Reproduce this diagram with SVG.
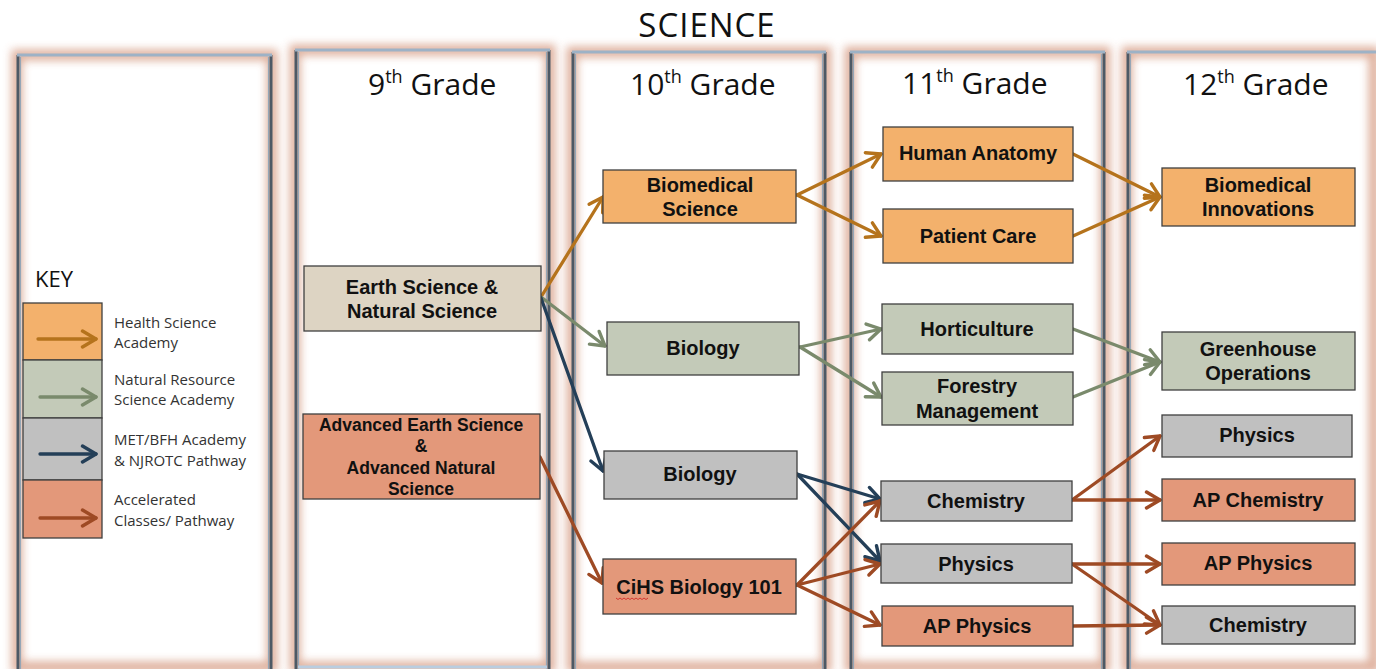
<svg xmlns="http://www.w3.org/2000/svg" width="1376" height="669" viewBox="0 0 1376 669">
<defs>
<filter id="glow" x="-20%" y="-20%" width="140%" height="140%"><feGaussianBlur stdDeviation="4"/></filter>
<marker id="ah-or" viewBox="0 0 20 20" refX="17" refY="10" markerWidth="20" markerHeight="20" markerUnits="userSpaceOnUse" orient="auto"><path d="M3.5,2 L17,10 L3.5,18" fill="none" stroke="#b5731c" stroke-width="3.4" stroke-linecap="round" stroke-linejoin="round"/></marker>
<marker id="ah-gr" viewBox="0 0 20 20" refX="17" refY="10" markerWidth="20" markerHeight="20" markerUnits="userSpaceOnUse" orient="auto"><path d="M3.5,2 L17,10 L3.5,18" fill="none" stroke="#7a8a6c" stroke-width="3.4" stroke-linecap="round" stroke-linejoin="round"/></marker>
<marker id="ah-nv" viewBox="0 0 20 20" refX="17" refY="10" markerWidth="20" markerHeight="20" markerUnits="userSpaceOnUse" orient="auto"><path d="M3.5,2 L17,10 L3.5,18" fill="none" stroke="#243f58" stroke-width="3.4" stroke-linecap="round" stroke-linejoin="round"/></marker>
<marker id="ah-br" viewBox="0 0 20 20" refX="17" refY="10" markerWidth="20" markerHeight="20" markerUnits="userSpaceOnUse" orient="auto"><path d="M3.5,2 L17,10 L3.5,18" fill="none" stroke="#9e4a24" stroke-width="3.4" stroke-linecap="round" stroke-linejoin="round"/></marker>
</defs>
<style>
.bg{fill:#fff}
.pfill{fill:#fff}
.pglow{fill:none;stroke:#dba893;stroke-width:11;filter:url(#glow);opacity:0.9}
.pside{stroke:#4d5965;stroke-width:3}
.pin{stroke:#95a6b6;stroke-width:1.2}
.ptop{stroke:#9db2c6;stroke-width:3}
.pbot{stroke:#b9cde0;stroke-width:3}
.title{font-family:"Open Sans","Noto Sans",sans-serif;font-size:33px;fill:#111}
.grade{font-family:"Open Sans","Noto Sans",sans-serif;font-size:30px;fill:#111}
.node rect{stroke:#3f3f3f;stroke-width:1.3}
.node text{font-family:"Liberation Sans",Arial,sans-serif;font-weight:bold;font-size:20px;fill:#111;text-anchor:middle}
.node text.sm{font-size:17.5px}
.or{fill:#f3b16c}
.gr{fill:#c3cab8}
.gy{fill:#c0c0c0}
.sa{fill:#e3987a}
.be{fill:#ddd4c3}
.key{font-family:"Open Sans","Noto Sans",sans-serif;font-size:15px;fill:#333}
.keyt{font-family:"Open Sans","Noto Sans",sans-serif;font-size:22px;fill:#111}
.c{fill:none;stroke-width:3.3;stroke-linecap:round}
.c-or{stroke:#b5731c;marker-end:url(#ah-or)}
.c-gr{stroke:#7a8a6c;marker-end:url(#ah-gr)}
.c-nv{stroke:#243f58;marker-end:url(#ah-nv)}
.c-br{stroke:#9e4a24;marker-end:url(#ah-br)}
</style>
<rect class="bg" x="0" y="0" width="1376" height="669"/>

<text class="title" x="707" y="37" text-anchor="middle" letter-spacing="1">SCIENCE</text>

<g id="panel-key">
<rect class="pfill" x="17" y="55" width="255" height="612"/>
<rect class="pglow" x="17" y="55" width="255" height="612"/>
<line class="pside" x1="18" y1="55" x2="18" y2="669"/><line class="pin" x1="20.5" y1="57" x2="20.5" y2="669"/>
<line class="pside" x1="271" y1="55" x2="271" y2="669"/><line class="pin" x1="268.5" y1="57" x2="268.5" y2="669"/>
<line class="ptop" x1="17" y1="55" x2="272" y2="55"/>
</g>
<g id="panel-9">
<rect class="pfill" x="295" y="50" width="255" height="617"/>
<rect class="pglow" x="295" y="50" width="255" height="617"/>
<line class="pside" x1="296" y1="50" x2="296" y2="669"/><line class="pin" x1="298.5" y1="52" x2="298.5" y2="669"/>
<line class="pside" x1="549" y1="50" x2="549" y2="669"/><line class="pin" x1="546.5" y1="52" x2="546.5" y2="669"/>
<line class="ptop" x1="295" y1="50" x2="550" y2="50"/>
<line class="pbot" x1="298" y1="667" x2="547" y2="667"/>
</g>
<g id="panel-10">
<rect class="pfill" x="572" y="52" width="254" height="615"/>
<rect class="pglow" x="572" y="52" width="254" height="615"/>
<line class="pside" x1="573" y1="52" x2="573" y2="669"/><line class="pin" x1="575.5" y1="54" x2="575.5" y2="669"/>
<line class="pside" x1="825" y1="52" x2="825" y2="669"/><line class="pin" x1="822.5" y1="54" x2="822.5" y2="669"/>
<line class="ptop" x1="572" y1="52" x2="826" y2="52"/>
</g>
<g id="panel-11">
<rect class="pfill" x="850" y="52" width="255" height="615"/>
<rect class="pglow" x="850" y="52" width="255" height="615"/>
<line class="pside" x1="851" y1="52" x2="851" y2="669"/><line class="pin" x1="853.5" y1="54" x2="853.5" y2="669"/>
<line class="pside" x1="1104" y1="52" x2="1104" y2="669"/><line class="pin" x1="1101.5" y1="54" x2="1101.5" y2="669"/>
<line class="ptop" x1="850" y1="52" x2="1105" y2="52"/>
</g>
<g id="panel-12">
<rect class="pfill" x="1127" y="52" width="247" height="615"/>
<rect class="pglow" x="1127" y="52" width="247" height="615"/>
<line class="pside" x1="1128" y1="52" x2="1128" y2="669"/><line class="pin" x1="1130.5" y1="54" x2="1130.5" y2="669"/>
<line class="ptop" x1="1127" y1="52" x2="1376" y2="52"/>
</g>

<g id="headings">
<text class="grade" x="368" y="95">9<tspan font-size="18" dy="-12">th</tspan><tspan dy="12"> Grade</tspan></text>
<text class="grade" x="630" y="95">10<tspan font-size="18" dy="-12">th</tspan><tspan dy="12"> Grade</tspan></text>
<text class="grade" x="902" y="94">11<tspan font-size="18" dy="-12">th</tspan><tspan dy="12"> Grade</tspan></text>
<text class="grade" x="1183" y="95">12<tspan font-size="18" dy="-12">th</tspan><tspan dy="12"> Grade</tspan></text>
</g>

<g id="key">
<text class="keyt" x="35" y="287">KEY</text>
<rect class="or" x="23" y="303" width="79" height="57" stroke="#3f3f3f" stroke-width="1.3"/>
<rect class="gr" x="23" y="360" width="79" height="58" stroke="#3f3f3f" stroke-width="1.3"/>
<rect class="gy" x="23" y="418" width="79" height="62" stroke="#3f3f3f" stroke-width="1.3"/>
<rect class="sa" x="23" y="480" width="79" height="58" stroke="#3f3f3f" stroke-width="1.3"/>
<line class="c c-or" x1="38" y1="339" x2="96" y2="339"/>
<line class="c c-gr" x1="40" y1="397" x2="96" y2="397"/>
<line class="c c-nv" x1="40" y1="454" x2="96" y2="454"/>
<line class="c c-br" x1="40" y1="518" x2="96" y2="518"/>
<text class="key" x="114" y="328">Health Science</text>
<text class="key" x="114" y="348">Academy</text>
<text class="key" x="114" y="385">Natural Resource</text>
<text class="key" x="114" y="405">Science Academy</text>
<text class="key" x="114" y="445">MET/BFH Academy</text>
<text class="key" x="114" y="466">&amp; NJROTC Pathway</text>
<text class="key" x="114" y="505">Accelerated</text>
<text class="key" x="114" y="526">Classes/ Pathway</text>
</g>

<g id="connectors">
<line class="c c-or" x1="541" y1="297" x2="603" y2="197"/>
<line class="c c-or" x1="797" y1="195" x2="881" y2="154"/>
<line class="c c-or" x1="797" y1="195" x2="881" y2="236"/>
<line class="c c-or" x1="1073" y1="154" x2="1160" y2="197"/>
<line class="c c-or" x1="1073" y1="236" x2="1160" y2="197"/>
<line class="c c-gr" x1="541" y1="297" x2="605" y2="346"/>
<line class="c c-gr" x1="800" y1="347" x2="881" y2="329"/>
<line class="c c-gr" x1="800" y1="347" x2="881" y2="397"/>
<line class="c c-gr" x1="1073" y1="329" x2="1160" y2="362"/>
<line class="c c-gr" x1="1073" y1="397" x2="1160" y2="362"/>
<line class="c c-nv" x1="541" y1="298" x2="603" y2="471"/>
<line class="c c-nv" x1="797" y1="474" x2="880" y2="499"/>
<line class="c c-nv" x1="797" y1="474" x2="880" y2="561"/>
<line class="c c-br" x1="540" y1="457" x2="602" y2="583"/>
<line class="c c-br" x1="797" y1="585" x2="880" y2="501"/>
<line class="c c-br" x1="797" y1="585" x2="880" y2="564"/>
<line class="c c-br" x1="797" y1="585" x2="880" y2="625"/>
<line class="c c-br" x1="1072" y1="500" x2="1160" y2="436"/>
<line class="c c-br" x1="1072" y1="500" x2="1160" y2="500"/>
<line class="c c-br" x1="1072" y1="564" x2="1160" y2="564"/>
<line class="c c-br" x1="1072" y1="564" x2="1160" y2="625"/>
<line class="c c-br" x1="1073" y1="626" x2="1160" y2="625"/>
</g>

<g id="n-earth" class="node"><rect class="be" x="304" y="266" width="237" height="65"/><text x="422" y="294">Earth Science &amp;</text><text x="422" y="318">Natural Science</text></g>
<g id="n-adv" class="node"><rect class="sa" x="303" y="414" width="237" height="85"/><text class="sm" x="421" y="431">Advanced Earth Science</text><text class="sm" x="421" y="452">&amp;</text><text class="sm" x="421" y="474">Advanced Natural</text><text class="sm" x="421" y="495">Science</text></g>

<g id="n-biomed" class="node"><rect class="or" x="603" y="170" width="193" height="53"/><text x="700" y="192">Biomedical</text><text x="700" y="216">Science</text></g>
<g id="n-bio-gr" class="node"><rect class="gr" x="607" y="322" width="192" height="53"/><text x="703" y="355">Biology</text></g>
<g id="n-bio-gy" class="node"><rect class="gy" x="604" y="451" width="193" height="48"/><text x="700" y="481">Biology</text></g>
<g id="n-cihs" class="node"><rect class="sa" x="603" y="559" width="193" height="55"/><text x="699" y="594">CiHS Biology 101</text><path d="M616,598 l2,1.5 l2,-1.5 l2,1.5 l2,-1.5 l2,1.5 l2,-1.5 l2,1.5 l2,-1.5 l2,1.5 l2,-1.5 l2,1.5 l2,-1.5 l2,1.5 l2,-1.5 l2,1.5 l2,-1.5" fill="none" stroke="#d02020" stroke-width="0.8"/></g>

<g id="n-anat" class="node"><rect class="or" x="883" y="127" width="190" height="54"/><text x="978" y="160">Human Anatomy</text></g>
<g id="n-patient" class="node"><rect class="or" x="883" y="209" width="190" height="54"/><text x="978" y="243">Patient Care</text></g>
<g id="n-hort" class="node"><rect class="gr" x="882" y="304" width="191" height="50"/><text x="977" y="336">Horticulture</text></g>
<g id="n-forest" class="node"><rect class="gr" x="882" y="372" width="191" height="53"/><text x="977" y="393">Forestry</text><text x="977" y="418">Management</text></g>
<g id="n-chem11" class="node"><rect class="gy" x="881" y="481" width="191" height="40"/><text x="976" y="508">Chemistry</text></g>
<g id="n-phys11" class="node"><rect class="gy" x="881" y="544" width="191" height="39"/><text x="976" y="571">Physics</text></g>
<g id="n-apphys11" class="node"><rect class="sa" x="882" y="606" width="191" height="40"/><text x="977" y="633">AP Physics</text></g>

<g id="n-innov" class="node"><rect class="or" x="1162" y="168" width="193" height="58"/><text x="1258" y="192">Biomedical</text><text x="1258" y="216">Innovations</text></g>
<g id="n-green" class="node"><rect class="gr" x="1162" y="332" width="193" height="58"/><text x="1258" y="356">Greenhouse</text><text x="1258" y="380">Operations</text></g>
<g id="n-phys12" class="node"><rect class="gy" x="1162" y="415" width="190" height="42"/><text x="1257" y="442">Physics</text></g>
<g id="n-apchem" class="node"><rect class="sa" x="1162" y="479" width="193" height="42"/><text x="1258" y="507">AP Chemistry</text></g>
<g id="n-apphys12" class="node"><rect class="sa" x="1162" y="543" width="193" height="42"/><text x="1258" y="570">AP Physics</text></g>
<g id="n-chem12" class="node"><rect class="gy" x="1162" y="606" width="193" height="38"/><text x="1258" y="632">Chemistry</text></g>
</svg>
